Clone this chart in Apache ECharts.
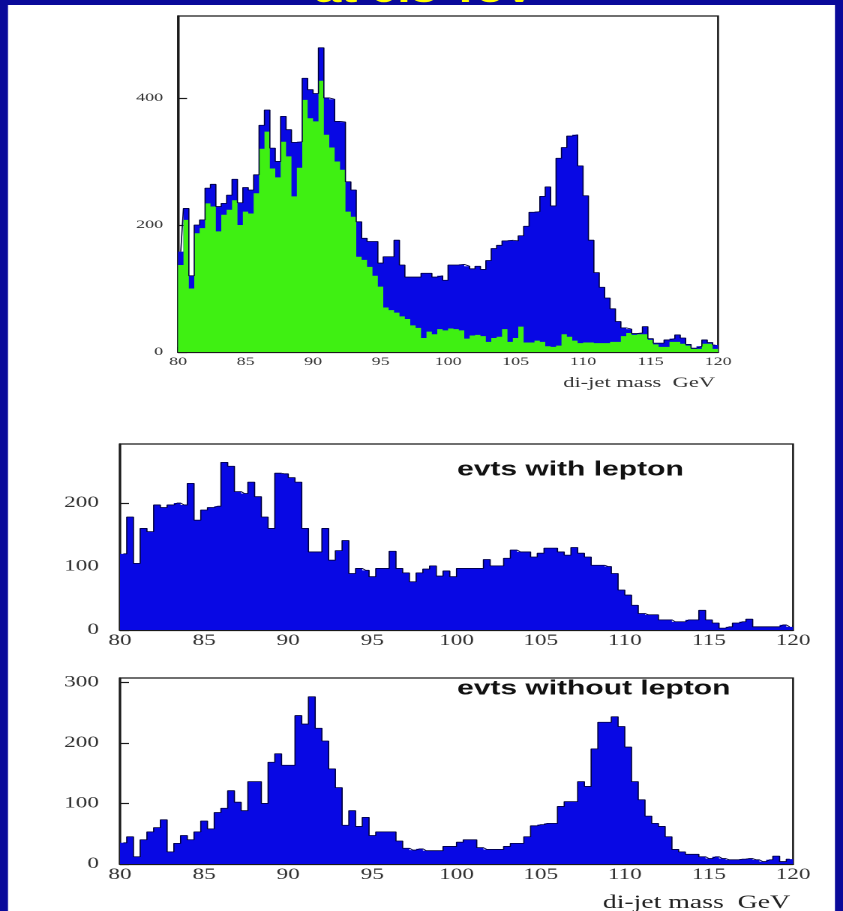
<!DOCTYPE html>
<html>
<head>
<meta charset="utf-8">
<script src="https://cdn.jsdelivr.net/npm/echarts@6/dist/echarts.min.js"></script>
<style>
html,body{margin:0;padding:0;background:#0a0a9a;overflow:hidden;width:843px;height:911px;}
/* the reference picture is stretched horizontally; the chart is drawn at 562px and widened 1.5x */
#chart{position:absolute;left:0;top:0;width:562px;height:911px;transform:scaleX(1.5);transform-origin:0 0;}
</style>
</head>
<body>
<div id="chart"></div>
<script>
// ---------- data (100 bins of 0.4 GeV, 80..120 GeV) ----------
const binCenters = [];
for (let i = 0; i < 100; i++) binCenters.push((80.2 + 0.4 * i).toFixed(1));

const massTicks = [80, 85, 90, 95, 100, 105, 110, 115, 120];
const topYTicks = [0, 200, 400];
const lepYTicks = [0, 100, 200];
const noLepYTicks = [0, 100, 200, 300];

// top panel: all events (blue)
const topAll = [
  158, 226, 120, 200, 208, 258, 264, 229, 234, 247,
  272, 235, 259, 255, 279, 357, 381, 321, 300, 371,
  350, 330, 331, 431, 413, 407, 479, 400, 398, 363,
  362, 268, 255, 205, 179, 174, 174, 140, 150, 150,
  176, 137, 118, 118, 118, 124, 124, 118, 120, 113,
  137, 137, 138, 135, 131, 135, 130, 144, 163, 168,
  175, 176, 175, 183, 198, 220, 221, 245, 260, 230,
  305, 322, 340, 342, 293, 246, 176, 125, 102, 85,
  68, 48, 38, 36, 29, 30, 40, 21, 14, 14,
  19, 21, 27, 22, 12, 6, 9, 19, 15, 11
];
// top panel: overlaid subset (green)
const topSubset = [
  137, 208, 100, 187, 195, 234, 229, 190, 216, 224,
  239, 200, 221, 218, 250, 320, 347, 289, 275, 331,
  308, 245, 290, 397, 368, 363, 427, 342, 322, 300,
  287, 221, 213, 150, 145, 134, 120, 103, 70, 66,
  62, 56, 52, 42, 38, 22, 32, 28, 36, 34,
  37, 36, 34, 21, 26, 27, 25, 16, 22, 24,
  36, 16, 22, 40, 15, 15, 18, 16, 9, 8,
  10, 28, 24, 18, 14, 15, 15, 14, 14, 14,
  16, 16, 25, 30, 27, 28, 28, 19, 12, 8,
  8, 16, 16, 13, 10, 5, 5, 13, 13, 5
];
// middle panel: events with lepton
const withLepton = [
  120, 178, 105, 160, 155, 197, 193, 197, 200, 197,
  231, 173, 189, 193, 195, 264, 258, 218, 215, 233,
  210, 178, 160, 247, 246, 240, 233, 160, 123, 123,
  160, 110, 125, 141, 89, 97, 94, 84, 97, 97,
  124, 97, 90, 76, 90, 96, 101, 85, 93, 84,
  97, 97, 97, 97, 111, 101, 101, 113, 126, 123,
  123, 115, 121, 129, 129, 123, 118, 130, 121, 115,
  102, 102, 100, 89, 63, 55, 39, 26, 24, 24,
  16, 16, 13, 13, 16, 16, 31, 16, 11, 3,
  5, 11, 13, 17, 5, 5, 5, 5, 8, 5
];
// bottom panel: events without lepton
const withoutLepton = [
  35, 45, 12, 40, 53, 60, 73, 20, 34, 47,
  40, 53, 71, 58, 85, 92, 121, 102, 88, 136,
  136, 100, 168, 182, 163, 163, 245, 231, 276, 224,
  203, 157, 126, 64, 88, 62, 77, 47, 53, 53,
  53, 38, 26, 23, 25, 22, 22, 22, 29, 29,
  36, 40, 40, 27, 24, 24, 24, 29, 34, 34,
  45, 63, 65, 67, 67, 95, 103, 103, 136, 128,
  190, 234, 234, 243, 227, 193, 136, 106, 79, 67,
  62, 45, 24, 20, 16, 16, 12, 9, 12, 9,
  7, 7, 8, 9, 7, 4, 7, 13, 4, 8
];

// ---------- styling ----------
const BLUE = '#0808e4';
const GREEN = '#3ff012';
const INK = '#1a1a1a';
const SERIF = '"Liberation Serif", "Times New Roman", serif';
const SANS = '"Liberation Sans", Arial, sans-serif';

const grids = [
  { left: 118.7, right: 83.3, top: 16, bottom: 559 },
  { left: 80, right: 33.3, top: 444, bottom: 281 },
  { left: 80, right: 33.3, top: 678, bottom: 47 }
].map(g => Object.assign(g, { show: true, borderColor: INK, borderWidth: 1.3, backgroundColor: 'transparent', containLabel: false }));

function catAxis(gi) {
  return { type: 'category', gridIndex: gi, data: binCenters, show: false, boundaryGap: true, position: 'bottom' };
}
function massAxis(gi, fs, margin) {
  return {
    type: 'value', gridIndex: gi, min: 80, max: 120, interval: 5, position: 'bottom',
    axisLine: { show: true, onZero: false, lineStyle: { color: INK, width: 1.3 } },
    axisTick: { show: true, inside: true, length: 5, lineStyle: { color: INK, width: 1 }, customValues: massTicks },
    axisLabel: { show: true, customValues: massTicks, fontFamily: SERIF, fontSize: fs, color: '#333', margin: margin },
    splitLine: { show: false }
  };
}
function countAxis(gi, max, interval, ticks, fs, margin) {
  return {
    type: 'value', gridIndex: gi, min: 0, max: max, interval: interval,
    axisLine: { show: true, onZero: false, lineStyle: { color: INK, width: 1.5 } },
    axisTick: { show: true, inside: true, length: 6, lineStyle: { color: INK, width: 1.2 }, customValues: ticks },
    axisLabel: {
      show: true, customValues: ticks, fontFamily: SERIF, fontSize: fs, color: '#333', margin: margin,
      formatter: v => (ticks.indexOf(v) >= 0 ? String(v) : '')
    },
    splitLine: { show: false }
  };
}
function bars(gi, data, color) {
  return {
    type: 'bar', xAxisIndex: gi * 2, yAxisIndex: gi, data: data,
    barWidth: '100%', barCategoryGap: '0%', barGap: '-100%',
    // large mode fills all bins as one path, so adjacent bins join without seams
    large: true, largeThreshold: 1,
    itemStyle: { color: color },
    silent: true, animation: false
  };
}
function outline(gi, data) {
  return {
    type: 'line', xAxisIndex: gi * 2, yAxisIndex: gi, data: data, step: 'middle',
    showSymbol: false, symbol: 'none', silent: true, animation: false,
    lineStyle: { color: '#00003c', width: 0.8 }
  };
}

const chart = echarts.init(document.getElementById('chart'), null, { renderer: 'canvas', devicePixelRatio: 2 });

const option = {
  backgroundColor: '#0a0a9a',
  animation: false,
  grid: grids,
  xAxis: [
    catAxis(0), massAxis(0, 12, 4),
    catAxis(1), massAxis(1, 15.5, 3),
    catAxis(2), massAxis(2, 15.5, 3)
  ],
  yAxis: [
    countAxis(0, 529, 200, topYTicks, 12, 10),
    countAxis(1, 293, 100, lepYTicks, 15.5, 14),
    countAxis(2, 307, 100, noLepYTicks, 15.5, 14)
  ],
  series: [
    bars(0, topAll, BLUE),
    outline(0, topAll),
    bars(0, topSubset, GREEN),
    bars(1, withLepton, BLUE),
    outline(1, withLepton),
    bars(2, withoutLepton, BLUE),
    outline(2, withoutLepton)
  ],
  graphic: [
    { type: 'text', z: -101, x: 283.3, y: 9,
      style: { text: 'at 0.5 TeV', fill: '#ffff00', font: 'bold 32px ' + SANS, align: 'center', textAlign: 'center', verticalAlign: 'bottom', textVerticalAlign: 'bottom' } },
    { type: 'rect', z: -100, shape: { x: 5.33, y: 5, width: 551.3, height: 906 }, style: { fill: '#ffffff' } },
    { type: 'text', z: 10, x: 304.7, y: 470,
      style: { text: 'evts with lepton', fill: '#111', font: 'bold 20px ' + SANS, align: 'left', textAlign: 'left', verticalAlign: 'middle', textVerticalAlign: 'middle' } },
    { type: 'text', z: 10, x: 304.7, y: 689,
      style: { text: 'evts without lepton', fill: '#111', font: 'bold 20px ' + SANS, align: 'left', textAlign: 'left', verticalAlign: 'middle', textVerticalAlign: 'middle' } },
    { type: 'text', z: 10, x: 476.7, y: 383,
      style: { text: 'di-jet mass  GeV', fill: '#333', font: '15px ' + SERIF, align: 'right', textAlign: 'right', verticalAlign: 'middle', textVerticalAlign: 'middle' } },
    { type: 'text', z: 10, x: 526.7, y: 903,
      style: { text: 'di-jet mass  GeV', fill: '#222', font: '18.5px ' + SERIF, align: 'right', textAlign: 'right', verticalAlign: 'middle', textVerticalAlign: 'middle' } }
  ]
};
chart.setOption(option);
</script>
</body>
</html>
